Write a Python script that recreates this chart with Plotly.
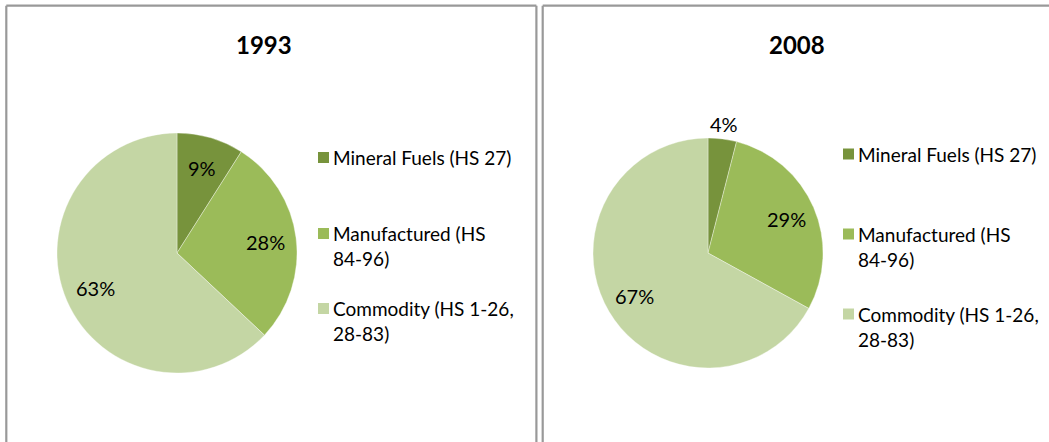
import math
import plotly.graph_objects as go

# ---- data ----
categories = ["Mineral Fuels (HS 27)", "Manufactured (HS 84-96)", "Commodity (HS 1-26, 28-83)"]
legend_labels = ["Mineral Fuels (HS 27)", "Manufactured (HS<br>84-96)", "Commodity (HS 1-26,<br>28-83)"]
years = ["1993", "2008"]
shares_1993 = [9, 28, 63]
shares_2008 = [4, 29, 67]
colors = ["#77933C", "#9BBB59", "#C4D6A4"]

W, H = 1049, 442
FONT = "Lato, Carlito, Calibri, 'Open Sans', sans-serif"


def px(x):
    return x / W


def py(y):
    return 1 - y / H


# layout per panel (pixels)
panels = [
    dict(year=years[0], vals=shares_1993, cx=177, cy=253, r=120, title_x=264,
         leg_sq_x=318, leg_tx=331, leg_y=[157.5, 233.5, 308.5]),
    dict(year=years[1], vals=shares_2008, cx=708, cy=253, r=115, title_x=797,
         leg_sq_x=843, leg_tx=856, leg_y=[154, 234, 314]),
]

fig = go.Figure()
annotations = []
shapes = []

for p in panels:
    cx, cy, r = p["cx"], p["cy"], p["r"]
    fig.add_trace(go.Pie(
        labels=categories,
        values=p["vals"],
        sort=False,
        direction="clockwise",
        rotation=0,
        marker=dict(colors=colors, line=dict(color="rgba(255,255,255,0.6)", width=0.6)),
        textinfo="none",
        hoverinfo="label+percent",
        showlegend=False,
        domain=dict(x=[px(cx - r), px(cx + r)], y=[py(cy + r), py(cy - r)]),
    ))
    # data labels
    total = sum(p["vals"])
    cum = 0
    for v in p["vals"]:
        mid = (cum + v / 2) / total * 2 * math.pi
        cum += v
        f = 1.13 if v / total < 0.05 else 0.74
        lx = cx + f * r * math.sin(mid)
        ly = cy - f * r * math.cos(mid)
        annotations.append(dict(
            x=px(lx), y=py(ly), xref="paper", yref="paper",
            text=f"{round(v / total * 100)}%", showarrow=False,
            xanchor="center", yanchor="middle",
            font=dict(family=FONT, size=20, color="#000000"),
        ))
    # title
    annotations.append(dict(
        x=px(p["title_x"]), y=py(45), xref="paper", yref="paper",
        text=f"<b>{p['year']}</b>", showarrow=False,
        xanchor="center", yanchor="middle",
        font=dict(family=FONT, size=24, color="#000000"),
    ))
    # legend
    for i, (lab, col) in enumerate(zip(legend_labels, colors)):
        yc = p["leg_y"][i]
        shapes.append(dict(
            type="rect", xref="paper", yref="paper",
            x0=px(p["leg_sq_x"]), x1=px(p["leg_sq_x"] + 11),
            y0=py(yc + 5.5), y1=py(yc - 5.5),
            fillcolor=col, line=dict(width=0),
        ))
        annotations.append(dict(
            x=px(p["leg_tx"]), y=py(yc - 13.5), xref="paper", yref="paper",
            text=lab, showarrow=False, align="left",
            xanchor="left", yanchor="top",
            font=dict(family=FONT, size=19, color="#000000"),
        ))

# panel borders
border = dict(color="#999999", width=2.2)
for x0, x1, y0, y1 in [
    (6.3, 6.3, 5.7, 442), (6.3, 536.4, 5.7, 5.7), (536.4, 536.4, 5.7, 442),
    (542.7, 542.7, 5.7, 442), (542.7, 1049, 5.7, 5.7),
]:
    shapes.append(dict(type="line", xref="paper", yref="paper",
                       x0=px(x0), x1=px(x1), y0=py(y0), y1=py(y1), line=border))

fig.update_layout(
    width=W, height=H,
    margin=dict(l=0, r=0, t=0, b=0),
    paper_bgcolor="white", plot_bgcolor="white",
    annotations=annotations, shapes=shapes,
    showlegend=False,
    font=dict(family=FONT),
)

fig.write_html("out.html")
